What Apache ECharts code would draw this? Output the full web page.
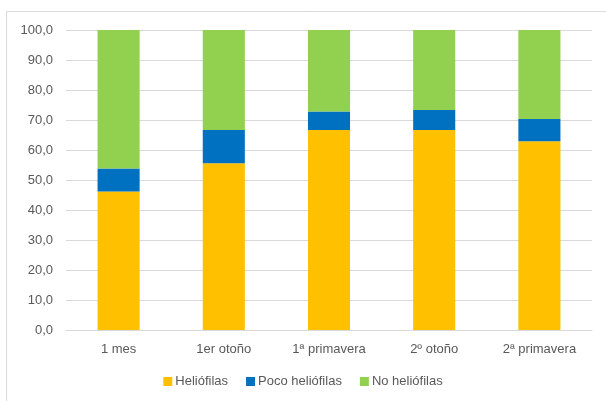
<!DOCTYPE html>
<html>
<head>
<meta charset="utf-8">
<script src="https://cdn.jsdelivr.net/npm/echarts@6/dist/echarts.min.js"></script>
<style>
html,body{margin:0;padding:0;background:#fff;}
#chart{width:606px;height:401px;}
</style>
</head>
<body>
<div id="chart"></div>
<script>
const categories = ['1 mes', '1er otoño', '1ª primavera', '2º otoño', '2ª primavera'];
const heliofilas = [46.2, 55.6, 66.7, 66.7, 62.9];
const pocoHeliofilas = [7.6, 11.1, 6.1, 6.6, 7.4];
const noHeliofilas = [46.2, 33.3, 27.2, 26.7, 29.7];
const seriesNames = ['Heliófilas', 'Poco heliófilas', 'No heliófilas'];
const colors = ['#FFC000', '#0070C0', '#92D050'];

const chart = echarts.init(document.getElementById('chart'));
const font = 'Liberation Sans';
const data = [heliofilas, pocoHeliofilas, noHeliofilas];
chart.setOption({
  animation: false,
  color: colors,
  graphic: [{
    type: 'rect',
    shape: {x: 6.5, y: 11.5, width: 620, height: 420},
    style: {fill: 'none', stroke: '#d9d9d9', lineWidth: 1},
    silent: true, z: -1
  }],
  grid: {left: 66, right: 14, top: 30, bottom: 71},
  legend: {
    bottom: 8,
    left: 'center',
    itemWidth: 9,
    itemHeight: 9,
    itemGap: 18,
    icon: 'rect',
    textStyle: {color: '#595959', fontSize: 13, fontFamily: font, padding: [0,0,0,-2]},
    data: seriesNames
  },
  xAxis: {
    type: 'category',
    data: categories,
    axisLine: {lineStyle: {color: '#d9d9d9', width: 1}},
    axisTick: {show: false},
    axisLabel: {color: '#595959', fontSize: 13, fontFamily: font, margin: 13}
  },
  yAxis: {
    type: 'value',
    min: 0, max: 100, interval: 10,
    axisLine: {show: false},
    axisTick: {show: false},
    splitLine: {lineStyle: {color: '#d9d9d9', width: 1}},
    axisLabel: {color: '#595959', fontSize: 13, fontFamily: font, margin: 13,
      formatter: v => v.toFixed(1).replace('.', ',')}
  },
  series: seriesNames.map((n, i) => ({
    name: n,
    type: 'bar',
    stack: 'total',
    barWidth: '40%',
    data: data[i],
    itemStyle: {color: colors[i]}
  }))
});
</script>
</body>
</html>
